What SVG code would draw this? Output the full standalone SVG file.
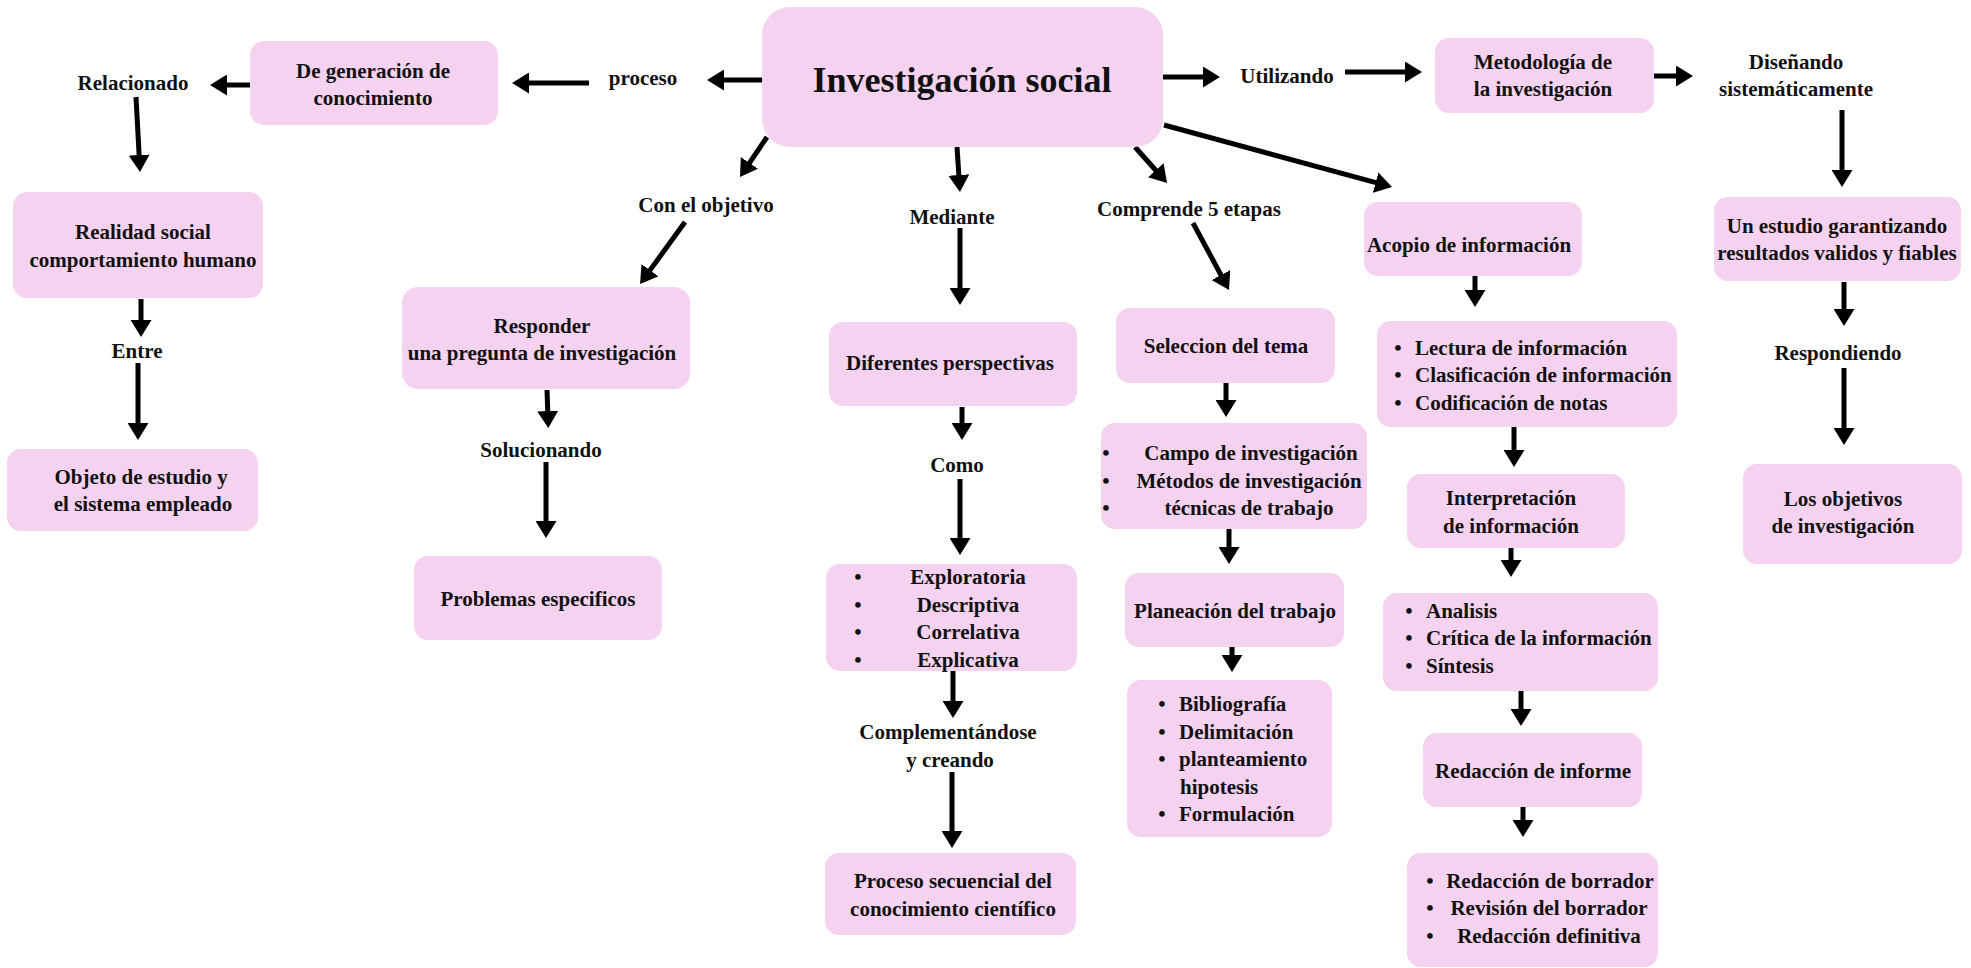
<svg xmlns="http://www.w3.org/2000/svg" width="1971" height="968" viewBox="0 0 1971 968">
<style>
.box{fill:#f5d3f0}
.t{font-family:"Liberation Serif",serif;font-weight:bold;font-size:21px;fill:#111;text-anchor:middle;dominant-baseline:central}
.l{text-anchor:start}
.title{font-size:36px}
.c line{stroke:#000;stroke-width:5;marker-end:url(#ah)}
</style>
<defs>
<marker id="ah" viewBox="0 0 17 21" markerWidth="17" markerHeight="21" refX="7" refY="10.5" orient="auto" markerUnits="userSpaceOnUse">
<path d="M0,0 L17,10.5 L0,21 z" fill="#000"/>
</marker>
</defs>
<rect width="1971" height="968" fill="#fff"/>

<g class="c" id="connectors">
<line x1="762" y1="80" x2="717" y2="80"/>
<line x1="589" y1="83" x2="522" y2="83"/>
<line x1="250" y1="85" x2="220" y2="85"/>
<line x1="136" y1="97" x2="139.5" y2="162"/>
<line x1="141" y1="299" x2="141" y2="327"/>
<line x1="138" y1="363" x2="138" y2="430"/>
<line x1="767" y1="137" x2="745.6" y2="168.7"/>
<line x1="685" y1="222" x2="645.9" y2="275.9"/>
<line x1="547" y1="390" x2="548" y2="418"/>
<line x1="546" y1="462" x2="546" y2="528"/>
<line x1="957" y1="147" x2="959.3" y2="182"/>
<line x1="960" y1="228" x2="960" y2="295"/>
<line x1="962" y1="407" x2="962" y2="430"/>
<line x1="960" y1="479" x2="960" y2="545"/>
<line x1="953" y1="671" x2="953" y2="708"/>
<line x1="952" y1="772" x2="952" y2="838"/>
<line x1="1135" y1="147" x2="1160.4" y2="175.5"/>
<line x1="1193" y1="223" x2="1224.3" y2="281.2"/>
<line x1="1226" y1="383" x2="1226" y2="407"/>
<line x1="1229" y1="529" x2="1229" y2="554"/>
<line x1="1232" y1="647" x2="1232" y2="662"/>
<line x1="1164" y1="125" x2="1382.4" y2="184.4"/>
<line x1="1475" y1="276" x2="1475" y2="297"/>
<line x1="1514" y1="427" x2="1514" y2="457"/>
<line x1="1511" y1="548" x2="1511" y2="567"/>
<line x1="1521" y1="691" x2="1521" y2="716"/>
<line x1="1523" y1="807" x2="1523" y2="827"/>
<line x1="1163" y1="77" x2="1210" y2="77"/>
<line x1="1345" y1="72" x2="1412" y2="72"/>
<line x1="1654" y1="76" x2="1683" y2="76"/>
<line x1="1842" y1="110" x2="1842" y2="177"/>
<line x1="1844" y1="282" x2="1844" y2="316"/>
<line x1="1844" y1="368" x2="1844" y2="435"/>
</g>

<g id="investigacion-social">
<rect class="box" x="762" y="7" width="401" height="140" rx="28"/>
<text class="t title" x="962" y="80">Investigación social</text>
</g>

<g id="lbl-proceso"><text class="t" x="643" y="78">proceso</text></g>

<g id="de-generacion">
<rect class="box" x="250" y="41" width="248" height="84" rx="14"/>
<text class="t" x="373" y="71">De generación de</text>
<text class="t" x="373" y="98">conocimiento</text>
</g>

<g id="lbl-relacionado"><text class="t" x="133" y="83">Relacionado</text></g>

<g id="realidad-social">
<rect class="box" x="13" y="192" width="250" height="106" rx="14"/>
<text class="t" x="143" y="232">Realidad social</text>
<text class="t" x="143" y="260">comportamiento humano</text>
</g>

<g id="lbl-entre"><text class="t" x="137" y="351">Entre</text></g>

<g id="objeto-estudio">
<rect class="box" x="7" y="449" width="251" height="82" rx="14"/>
<text class="t" x="141" y="477">Objeto de estudio y</text>
<text class="t" x="143" y="504">el sistema empleado</text>
</g>

<g id="lbl-con-el-objetivo"><text class="t" x="706" y="205">Con el objetivo</text></g>

<g id="responder">
<rect class="box" x="402" y="287" width="288" height="102" rx="16"/>
<text class="t" x="542" y="326">Responder</text>
<text class="t" x="542" y="353">una pregunta de investigación</text>
</g>

<g id="lbl-solucionando"><text class="t" x="541" y="450">Solucionando</text></g>

<g id="problemas">
<rect class="box" x="414" y="556" width="248" height="84" rx="14"/>
<text class="t" x="538" y="599">Problemas especificos</text>
</g>

<g id="lbl-mediante"><text class="t" x="952" y="217">Mediante</text></g>

<g id="diferentes-perspectivas">
<rect class="box" x="829" y="322" width="248" height="84" rx="14"/>
<text class="t" x="950" y="363">Diferentes perspectivas</text>
</g>

<g id="lbl-como"><text class="t" x="957" y="465">Como</text></g>

<g id="tipos">
<rect class="box" x="826" y="564" width="251" height="107" rx="14"/>
<text class="t" x="858" y="577">•</text>
<text class="t" x="858" y="605">•</text>
<text class="t" x="858" y="632">•</text>
<text class="t" x="858" y="660">•</text>
<text class="t" x="968" y="577">Exploratoria</text>
<text class="t" x="968" y="605">Descriptiva</text>
<text class="t" x="968" y="632">Correlativa</text>
<text class="t" x="968" y="660">Explicativa</text>
</g>

<g id="lbl-complementandose">
<text class="t" x="948" y="732">Complementándose</text>
<text class="t" x="950" y="760">y creando</text>
</g>

<g id="proceso-secuencial">
<rect class="box" x="825" y="853" width="251" height="82" rx="14"/>
<text class="t" x="953" y="881">Proceso secuencial del</text>
<text class="t" x="953" y="909">conocimiento científico</text>
</g>

<g id="lbl-comprende"><text class="t" x="1189" y="209">Comprende 5 etapas</text></g>

<g id="seleccion-tema">
<rect class="box" x="1116" y="308" width="219" height="75" rx="14"/>
<text class="t" x="1226" y="346">Seleccion del tema</text>
</g>

<g id="campo">
<rect class="box" x="1101" y="423" width="266" height="106" rx="14"/>
<text class="t" x="1106" y="453">•</text>
<text class="t" x="1106" y="481">•</text>
<text class="t" x="1106" y="508">•</text>
<text class="t" x="1251" y="453">Campo de investigación</text>
<text class="t" x="1249" y="481">Métodos de investigación</text>
<text class="t" x="1249" y="508">técnicas de trabajo</text>
</g>

<g id="planeacion">
<rect class="box" x="1125" y="573" width="219" height="74" rx="14"/>
<text class="t" x="1235" y="611">Planeación del trabajo</text>
</g>

<g id="bibliografia">
<rect class="box" x="1127" y="680" width="205" height="157" rx="14"/>
<text class="t" x="1162" y="704">•</text>
<text class="t" x="1162" y="732">•</text>
<text class="t" x="1162" y="759">•</text>
<text class="t" x="1162" y="814">•</text>
<text class="t l" x="1179" y="704">Bibliografía</text>
<text class="t l" x="1179" y="732">Delimitación</text>
<text class="t l" x="1179" y="759">planteamiento</text>
<text class="t l" x="1180" y="787">hipotesis</text>
<text class="t l" x="1179" y="814">Formulación</text>
</g>

<g id="acopio">
<rect class="box" x="1364" y="202" width="218" height="74" rx="14"/>
<text class="t" x="1469" y="245">Acopio de información</text>
</g>

<g id="lectura">
<rect class="box" x="1377" y="321" width="300" height="106" rx="14"/>
<text class="t" x="1398" y="348">•</text>
<text class="t" x="1398" y="375">•</text>
<text class="t" x="1398" y="403">•</text>
<text class="t l" x="1415" y="348">Lectura de información</text>
<text class="t l" x="1415" y="375">Clasificación de información</text>
<text class="t l" x="1415" y="403">Codificación de notas</text>
</g>

<g id="interpretacion">
<rect class="box" x="1407" y="474" width="218" height="74" rx="14"/>
<text class="t" x="1511" y="498">Interpretación</text>
<text class="t" x="1511" y="526">de información</text>
</g>

<g id="analisis">
<rect class="box" x="1383" y="593" width="275" height="98" rx="14"/>
<text class="t" x="1409" y="611">•</text>
<text class="t" x="1409" y="638">•</text>
<text class="t" x="1409" y="666">•</text>
<text class="t l" x="1426" y="611">Analisis</text>
<text class="t l" x="1426" y="638">Crítica de la información</text>
<text class="t l" x="1426" y="666">Síntesis</text>
</g>

<g id="redaccion-informe">
<rect class="box" x="1423" y="733" width="219" height="74" rx="14"/>
<text class="t" x="1533" y="771">Redacción de informe</text>
</g>

<g id="redaccion-borrador">
<rect class="box" x="1407" y="853" width="251" height="114" rx="14"/>
<text class="t" x="1430" y="881">•</text>
<text class="t" x="1430" y="908">•</text>
<text class="t" x="1430" y="936">•</text>
<text class="t" x="1550" y="881">Redacción de borrador</text>
<text class="t" x="1549" y="908">Revisión del borrador</text>
<text class="t" x="1549" y="936">Redacción definitiva</text>
</g>

<g id="lbl-utilizando"><text class="t" x="1287" y="76">Utilizando</text></g>

<g id="metodologia">
<rect class="box" x="1435" y="38" width="219" height="75" rx="14"/>
<text class="t" x="1543" y="62">Metodología de</text>
<text class="t" x="1543" y="89">la investigación</text>
</g>

<g id="lbl-disenando">
<text class="t" x="1796" y="62">Diseñando</text>
<text class="t" x="1796" y="89">sistemáticamente</text>
</g>

<g id="un-estudio">
<rect class="box" x="1714" y="197" width="247" height="84" rx="14"/>
<text class="t" x="1837" y="226">Un estudio garantizando</text>
<text class="t" x="1837" y="253">resultados validos y fiables</text>
</g>

<g id="lbl-respondiendo"><text class="t" x="1838" y="353">Respondiendo</text></g>

<g id="los-objetivos">
<rect class="box" x="1743" y="464" width="219" height="100" rx="14"/>
<text class="t" x="1843" y="499">Los objetivos</text>
<text class="t" x="1843" y="526">de investigación</text>
</g>
</svg>
